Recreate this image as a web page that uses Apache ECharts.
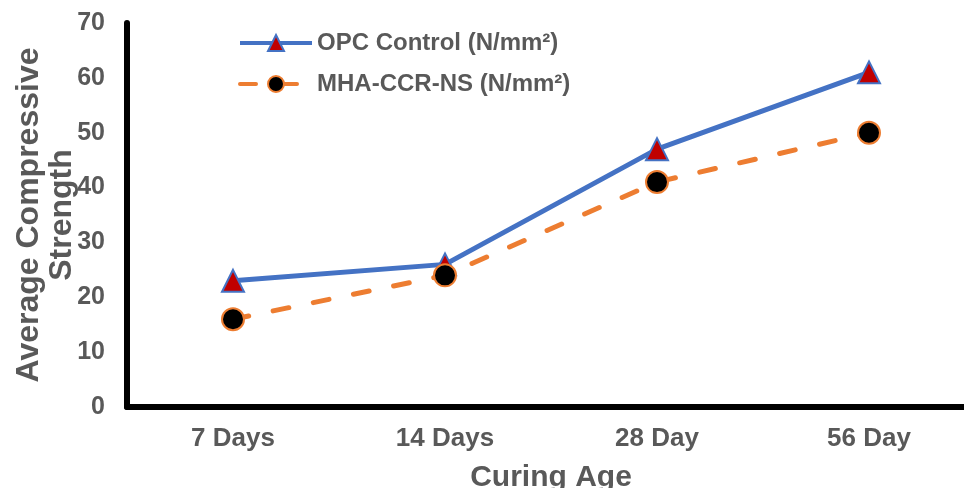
<!DOCTYPE html>
<html>
<head>
<meta charset="utf-8">
<script src="https://cdn.jsdelivr.net/npm/echarts@6/dist/echarts.min.js"></script>
<style>
html,body{margin:0;padding:0;background:#fff;}
#c{width:964px;height:488px;}
</style>
</head>
<body>
<div id="c"></div>
<script>
const categories = ['7 Days', '14 Days', '28 Day', '56 Day'];
const opcControl = [23, 26, 47, 61];
const mhaCcrNs = [16, 24, 41, 50];
const yTicks = [0, 10, 20, 30, 40, 50, 60, 70];

const gray = '#595959';
const font = 'Liberation Sans, Arial, sans-serif';
const chart = echarts.init(document.getElementById('c'));
chart.setOption({
  animation: false,
  backgroundColor: '#ffffff',
  grid: { left: 127, top: 23, width: 848, height: 384, containLabel: false, outerBoundsMode: 'none' },
  legend: {
    orient: 'vertical',
    left: 233,
    top: 26,
    itemWidth: 72,
    itemHeight: 20,
    itemGap: 17,
    lineStyle: { width: 4 },
    textStyle: { color: gray, fontSize: 24, fontWeight: 'bold', fontFamily: font },
    data: ['OPC Control (N/mm²)', 'MHA-CCR-NS (N/mm²)']
  },
  xAxis: {
    type: 'category',
    data: categories,
    boundaryGap: true,
    axisLine: { lineStyle: { color: '#000', width: 6 } },
    axisTick: { show: false },
    axisLabel: { color: gray, fontSize: 26, fontWeight: 'bold', margin: 19, fontFamily: font },
    name: 'Curing Age',
    nameLocation: 'middle',
    nameGap: 56,
    nameTextStyle: { color: gray, fontSize: 30, fontWeight: 'bold', fontFamily: font }
  },
  yAxis: {
    type: 'value',
    min: yTicks[0],
    max: yTicks[yTicks.length - 1],
    interval: 10,
    axisLine: { show: true, lineStyle: { color: '#000', width: 6 } },
    axisTick: { show: false },
    splitLine: { show: false },
    axisLabel: { color: gray, fontSize: 25, fontWeight: 'bold', margin: 22, fontFamily: font }
  },
  graphic: [{
    type: 'text',
    x: 46,
    y: 215,
    rotation: Math.PI / 2,
    style: {
      text: 'Average Compressive\nStrength',
      fill: gray,
      font: 'bold 32px "Liberation Sans", Arial, sans-serif',
      align: 'center',
      verticalAlign: 'middle',
      lineHeight: 33
    }
  }],
  series: [
    {
      name: 'OPC Control (N/mm²)',
      type: 'line',
      data: opcControl,
      symbol: 'triangle',
      symbolSize: [22, 22],
      lineStyle: { color: '#4472C4', width: 5 },
      itemStyle: { color: '#C00000', borderColor: '#4472C4', borderWidth: 2 },
      z: 3
    },
    {
      name: 'MHA-CCR-NS (N/mm²)',
      type: 'line',
      data: mhaCcrNs,
      symbol: 'circle',
      symbolSize: 22,
      lineStyle: { color: '#ED7D31', width: 5, type: [16, 25], cap: 'round' },
      itemStyle: { color: '#000000', borderColor: '#ED7D31', borderWidth: 2 },
      z: 4
    }
  ]
});
</script>
</body>
</html>
